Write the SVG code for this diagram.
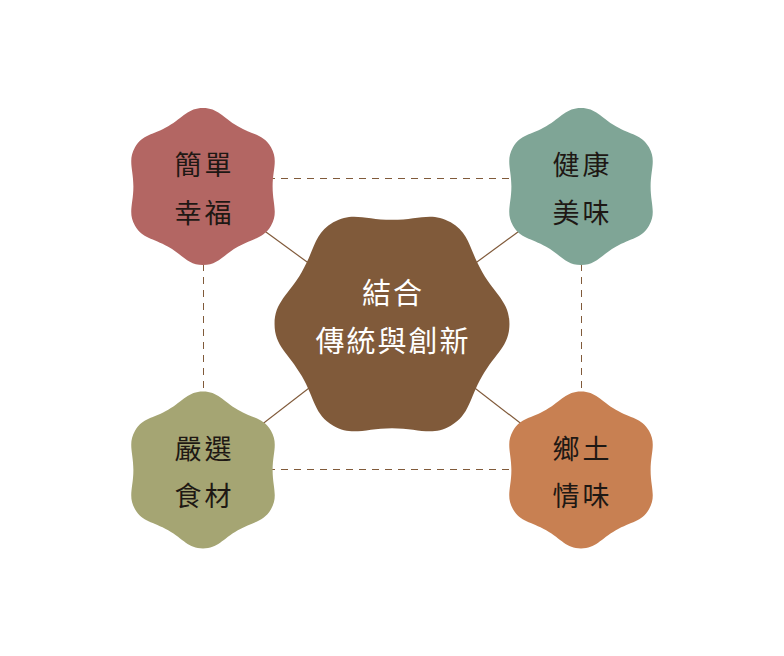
<svg xmlns="http://www.w3.org/2000/svg" xmlns:xlink="http://www.w3.org/1999/xlink" width="784" height="656" viewBox="0 0 784 656">
  <style>
    .solid { stroke: #805A3A; stroke-width: 1.2; fill: none; }
    .dash { stroke: #805A3A; stroke-width: 1; fill: none; stroke-dasharray: 7 6; }
    .lbl { font-family: "Noto Sans CJK TC", "Noto Sans CJK SC", sans-serif; font-size: 27px; letter-spacing: 3px; fill: #1E1814; text-anchor: middle; dominant-baseline: central; }
    .clbl { font-family: "Noto Sans CJK TC", "Noto Sans CJK SC", sans-serif; font-size: 29px; letter-spacing: 2px; fill: #FFFFFF; text-anchor: middle; dominant-baseline: central; }
  </style>
  <defs>
    <path id="blob" d="M94,0 C94,24 101.8,35.68 91.8,53 C81.8,70.32 67.78,69.41 47,81.41 C26.22,93.41 20,106 0,106 C-20,106 -26.22,93.41 -47,81.41 C-67.78,69.41 -81.8,70.32 -91.8,53 C-101.8,35.68 -94,24 -94,0 C-94,-24 -101.8,-35.68 -91.8,-53 C-81.8,-70.32 -67.78,-69.41 -47,-81.41 C-26.22,-93.41 -20,-106 0,-106 C20,-106 26.22,-93.41 47,-81.41 C67.78,-69.41 81.8,-70.32 91.8,-53 C101.8,-35.68 94,-24 94,0 Z"/>
  </defs>
  <rect width="784" height="656" fill="#FFFFFF"/>
  <g id="connectors">
    <line class="dash" x1="203" y1="178.5" x2="581" y2="178.5"/>
    <line class="dash" x1="203" y1="469.5" x2="581" y2="469.5"/>
    <line class="dash" x1="203.5" y1="186" x2="203.5" y2="470"/>
    <line class="dash" x1="581.5" y1="186" x2="581.5" y2="470"/>
    <line class="solid" x1="203" y1="186" x2="392" y2="324"/>
    <line class="solid" x1="581" y1="186" x2="392" y2="324"/>
    <line class="solid" x1="203" y1="470" x2="392" y2="324"/>
    <line class="solid" x1="581" y1="470" x2="392" y2="324"/>
  </g>
  <g id="node-center">
    <use xlink:href="#blob" href="#blob" transform="translate(392,324) rotate(90) scale(1.108)" fill="#805A3A"/>
    <text class="clbl" x="393" y="291">結合</text>
    <text class="clbl" x="393" y="338.5">傳統與創新</text>
  </g>
  <g id="node-simple">
    <use xlink:href="#blob" href="#blob" transform="translate(203,186.5) scale(0.7406)" fill="#B36663"/>
    <text class="lbl" x="204.5" y="163">簡單</text>
    <text class="lbl" x="204.5" y="211">幸福</text>
  </g>
  <g id="node-health">
    <use xlink:href="#blob" href="#blob" transform="translate(581,186.5) scale(0.7406)" fill="#7FA596"/>
    <text class="lbl" x="582.5" y="163">健康</text>
    <text class="lbl" x="582.5" y="211">美味</text>
  </g>
  <g id="node-select">
    <use xlink:href="#blob" href="#blob" transform="translate(203,470) scale(0.7406)" fill="#A5A573"/>
    <text class="lbl" x="204.5" y="447">嚴選</text>
    <text class="lbl" x="204.5" y="494">食材</text>
  </g>
  <g id="node-local">
    <use xlink:href="#blob" href="#blob" transform="translate(581,470) scale(0.7406)" fill="#C88052"/>
    <text class="lbl" x="582.5" y="447">鄉土</text>
    <text class="lbl" x="582.5" y="494">情味</text>
  </g>
</svg>
